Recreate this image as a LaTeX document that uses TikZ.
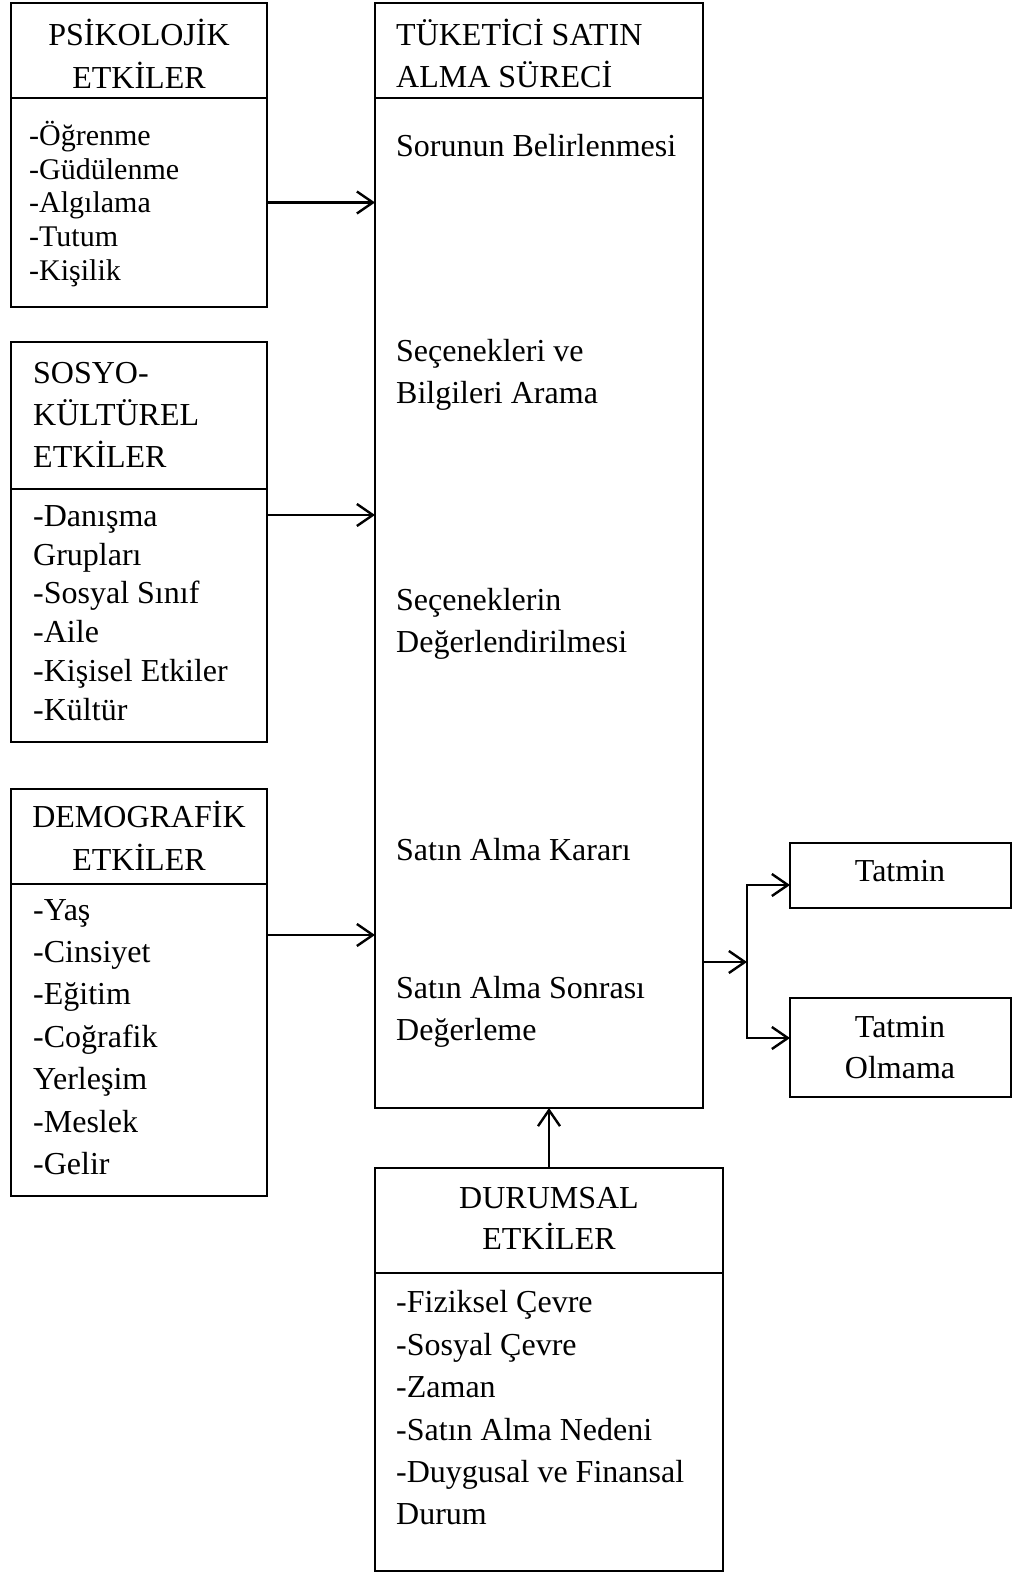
\documentclass[tikz,border=0pt]{standalone}
\usepackage{fontspec}
\setmainfont{Liberation Serif}
\usetikzlibrary{arrows.meta,positioning}

\begin{document}
\begin{tikzpicture}[x=1pt,y=-1pt,
  box/.style={draw, line width=2.5pt, inner sep=0pt, outer sep=0pt, anchor=north west},
  txt/.style={inner sep=0pt, anchor=base west, font=\fontsize{32}{42}\selectfont},
  ctxt/.style={txt, anchor=base},
  small/.style={txt, font=\fontsize{30}{34}\selectfont},
  arr/.style={line width=2.4pt, -{Straight Barb[length=16pt,width=22pt]}}]

\useasboundingbox (0,0) rectangle (1016,1574);

% boxes
\node[box, minimum width=256, minimum height=95] (psyHead) at (11,3) {};
\node[box, minimum width=256, minimum height=209, below=0pt of psyHead] (psyBody) {};
\node[box, minimum width=256, minimum height=147] (socHead) at (11,342) {};
\node[box, minimum width=256, minimum height=253, below=0pt of socHead] (socBody) {};
\node[box, minimum width=256, minimum height=95] (demHead) at (11,789) {};
\node[box, minimum width=256, minimum height=312, below=0pt of demHead] (demBody) {};
\node[box, minimum width=328, minimum height=95] (mainHead) at (375,3) {};
\node[box, minimum width=328, minimum height=1010, below=0pt of mainHead] (mainBody) {};
\node[box, minimum width=348, minimum height=105] (durHead) at (375,1168) {};
\node[box, minimum width=348, minimum height=298, below=0pt of durHead] (durBody) {};
\node[box, minimum width=221, minimum height=65] (satYes) at (790,843) {};
\node[box, minimum width=221, minimum height=99] (satNo) at (790,998) {};

% psikolojik
\node[ctxt] (psyT1) at (139,45) {PSİKOLOJİK};
\node[ctxt] (psyT2) at (139,88) {ETKİLER};
\node[small] (psy1) at (29,145) {-Öğrenme};
\node[small] (psy2) at (29,179) {-Güdülenme};
\node[small] (psy3) at (29,212) {-Algılama};
\node[small] (psy4) at (29,246) {-Tutum};
\node[small] (psy5) at (29,280) {-Kişilik};

% sosyo-kulturel
\node[txt] (socT1) at (33,383) {SOSYO-};
\node[txt] (socT2) at (33,425) {KÜLTÜREL};
\node[txt] (socT3) at (33,467) {ETKİLER};
\node[txt] (soc1) at (33,526) {-Danışma};
\node[txt] (soc2) at (33,565) {Grupları};
\node[txt] (soc3) at (33,603) {-Sosyal Sınıf};
\node[txt] (soc4) at (33,642) {-Aile};
\node[txt] (soc5) at (33,681) {-Kişisel Etkiler};
\node[txt] (soc6) at (33,720) {-Kültür};

% demografik
\node[ctxt] (demT1) at (139,827) {DEMOGRAFİK};
\node[ctxt] (demT2) at (139,870) {ETKİLER};
\node[txt] (dem1) at (33,920) {-Yaş};
\node[txt] (dem2) at (33,962) {-Cinsiyet};
\node[txt] (dem3) at (33,1004) {-Eğitim};
\node[txt] (dem4) at (33,1047) {-Coğrafik};
\node[txt] (dem5) at (33,1089) {Yerleşim};
\node[txt] (dem6) at (33,1132) {-Meslek};
\node[txt] (dem7) at (33,1174) {-Gelir};

% satin alma sureci
\node[txt] (mainT1) at (396,45) {TÜKETİCİ SATIN};
\node[txt] (mainT2) at (396,87) {ALMA SÜRECİ};
\node[txt] (step1) at (396,156) {Sorunun Belirlenmesi};
\node[txt] (step2a) at (396,361) {Seçenekleri ve};
\node[txt] (step2b) at (396,403) {Bilgileri Arama};
\node[txt] (step3a) at (396,610) {Seçeneklerin};
\node[txt] (step3b) at (396,652) {Değerlendirilmesi};
\node[txt] (step4) at (396,860) {Satın Alma Kararı};
\node[txt] (step5a) at (396,998) {Satın Alma Sonrası};
\node[txt] (step5b) at (396,1040) {Değerleme};

% sonuc
\node[ctxt] (yesT) at (900,881) {Tatmin};
\node[ctxt] (noT1) at (900,1037) {Tatmin};
\node[ctxt] (noT2) at (900,1078) {Olmama};

% durumsal
\node[ctxt] (durT1) at (549,1208) {DURUMSAL};
\node[ctxt] (durT2) at (549,1249) {ETKİLER};
\node[txt] (dur1) at (396,1312) {-Fiziksel Çevre};
\node[txt] (dur2) at (396,1355) {-Sosyal Çevre};
\node[txt] (dur3) at (396,1397) {-Zaman};
\node[txt] (dur4) at (396,1440) {-Satın Alma Nedeni};
\node[txt] (dur5) at (396,1482) {-Duygusal ve Finansal};
\node[txt] (dur6) at (396,1524) {Durum};

% arrows
\coordinate (socOut) at ([yshift=-26pt]socBody.north east);
\coordinate (demOut) at ([yshift=-51pt]demBody.north east);
\coordinate (fork) at (747,962);
\coordinate (forkTop) at (747,885);
\coordinate (forkBot) at (747,1038);

\draw[arr] (psyBody.east) -- (psyBody.east -| mainBody.west);
\draw[arr] (socOut) -- (socOut -| mainBody.west);
\draw[arr] (demOut) -- (demOut -| mainBody.west);
\draw[arr] (mainBody.east |- fork) -- (fork);
\draw[arr] (fork) -- (forkTop) -- (forkTop -| satYes.west);
\draw[arr] (fork) -- (forkBot) -- (forkBot -| satNo.west);
\draw[arr] (durHead.north) -- (durHead.north |- mainBody.south);

\end{tikzpicture}
\end{document}
